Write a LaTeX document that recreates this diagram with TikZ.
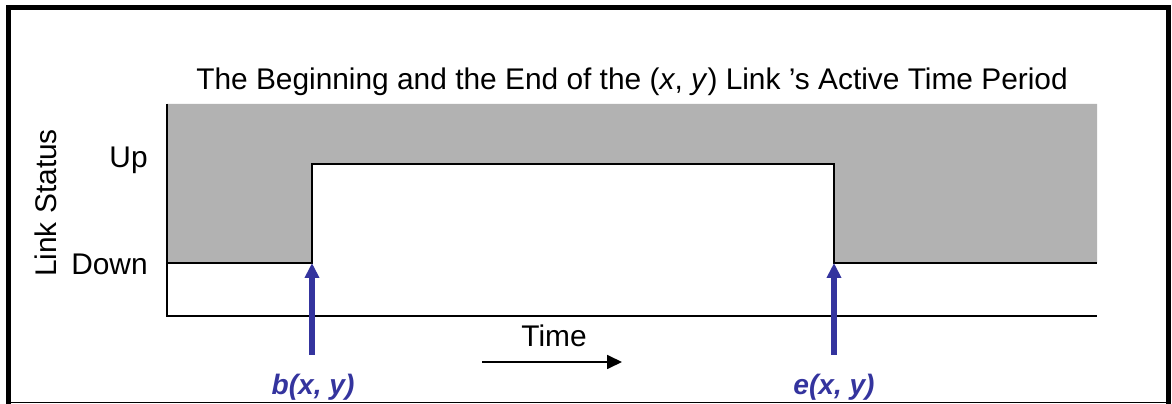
\documentclass[tikz,border=0pt]{standalone}
\usepackage{fontspec}
\setmainfont{Liberation Sans}
\usetikzlibrary{arrows.meta}
\definecolor{offgray}{RGB}{178,178,178}
\definecolor{arrowblue}{RGB}{52,52,158}
\tikzstyle{lbl}=[inner sep=0pt, font=\fontsize{17}{20}\selectfont]
\tikzstyle{tag}=[inner sep=0pt, text=arrowblue, font=\fontsize{16}{19}\selectfont\bfseries\itshape]
\tikzstyle{signal}=[line width=1.2pt]
\tikzstyle{pointer}=[draw=arrowblue, line width=3.2pt, -{Triangle[length=0.3cm,width=0.28cm]}]

\begin{document}
\begin{tikzpicture}[x=0.02cm, y=-0.02cm]
  \useasboundingbox (0,0) rectangle (1172,404);
  % frame
  \draw[line width=2.4pt] (8.5,404) -- (8.5,7.5) -- (1168.5,7.5) -- (1168.5,404);
  \draw[line width=0.8pt] (8.5,402.5) -- (1168.5,402.5);
  % inactive periods
  \fill[offgray] (167,104) -- (1097,104) -- (1097,263) -- (834,263) -- (834,164)
    -- (312,164) -- (312,263) -- (167,263) -- cycle;
  % status waveform
  \coordinate (b) at (312,263);
  \coordinate (e) at (834,263);
  \draw[signal] (167,104) -- (167,316) -- (1097,316);
  \draw[signal] (167,263) -- (b) -- (312,164) -- (834,164) -- (e) -- (1097,263);
  % texts
  \node[lbl, anchor=base] (title) at (632,90)
    {The Beginning and the End of the (\textit{x}, \textit{y}) Link 's Active Time Period};
  \node[lbl, anchor=base east] (up) at (148,168) {Up};
  \node[lbl, anchor=base east] (down) at (148,275) {Down};
  \node[lbl, rotate=90] (status) at (46,203) {Link Status};
  \node[lbl, anchor=base] (time) at (554,347) {Time};
  \node[tag, anchor=base] (bxy) at (313,395) {b(x, y)};
  \node[tag, anchor=base] (exy) at (834,395) {e(x, y)};
  % arrows
  \coordinate (b0) at (312,355);
  \coordinate (e0) at (834,355);
  \coordinate (t0) at (482,362);
  \coordinate (t1) at (622,362);
  \draw[pointer] (b0) -- (b);
  \draw[pointer] (e0) -- (e);
  \draw[line width=1pt, -{Triangle[length=0.3cm,width=0.28cm]}] (t0) -- (t1);
\end{tikzpicture}
\end{document}
